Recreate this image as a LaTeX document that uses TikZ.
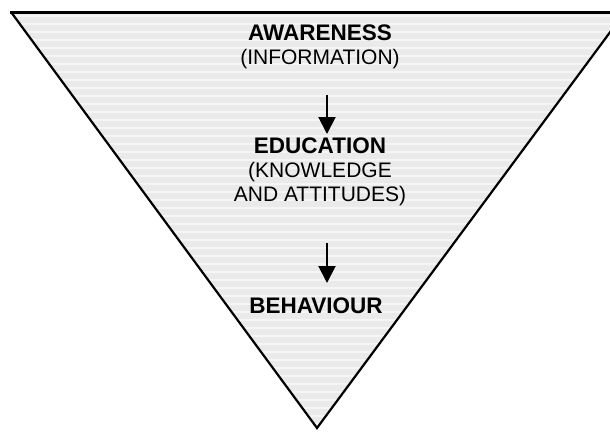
\documentclass[tikz,border=0pt]{standalone}
\usepackage{fontspec}
\setmainfont{Liberation Sans}
\usetikzlibrary{arrows.meta}
\definecolor{funnelfill}{RGB}{234,234,234}
\newcommand{\stage}[1]{{\fontsize{22.5}{24}\selectfont\bfseries #1}}

\begin{document}
\begin{tikzpicture}[x=1pt,y=-1pt,
    label/.style={align=center,inner sep=0pt,font=\fontsize{21}{24}\selectfont},
    flow/.style={line width=2pt,-{Triangle[length=17pt,width=17pt]}}]
  \useasboundingbox (0,0) rectangle (610,432);
  \clip (0,0) rectangle (610,432);
  % the funnel, with faint horizontal banding
  \fill[funnelfill] (11,12) -- (625,12) -- (317,428) -- cycle;
  \begin{scope}
    \clip (11,12) -- (625,12) -- (317,428) -- cycle;
    \foreach \y in {16,24,...,424}
      \draw[white,opacity=0.55,line width=2.5pt] (0,\y) -- (610,\y);
  \end{scope}
  \draw[line width=2.2pt,line join=miter] (625,12) -- (317,428) -- (11,12);
  \draw[line width=3pt] (10,12) -- (625,12);
  % stages
  \node[label,anchor=north] (aware) at (320,25) {\stage{AWARENESS}\\(INFORMATION)};
  \node[label,anchor=north] (edu) at (320,138) {\stage{EDUCATION}\\(KNOWLEDGE\\AND ATTITUDES)};
  \node[label,anchor=north] (beh) at (316,298) {\stage{BEHAVIOUR}};
  \coordinate (s1) at (327,95);
  \coordinate (s2) at (327,243);
  \draw[flow,shorten >=4pt] (s1) -- (s1 |- edu.north);
  \draw[flow,shorten >=15pt] (s2) -- (s2 |- beh.north);
\end{tikzpicture}
\end{document}
